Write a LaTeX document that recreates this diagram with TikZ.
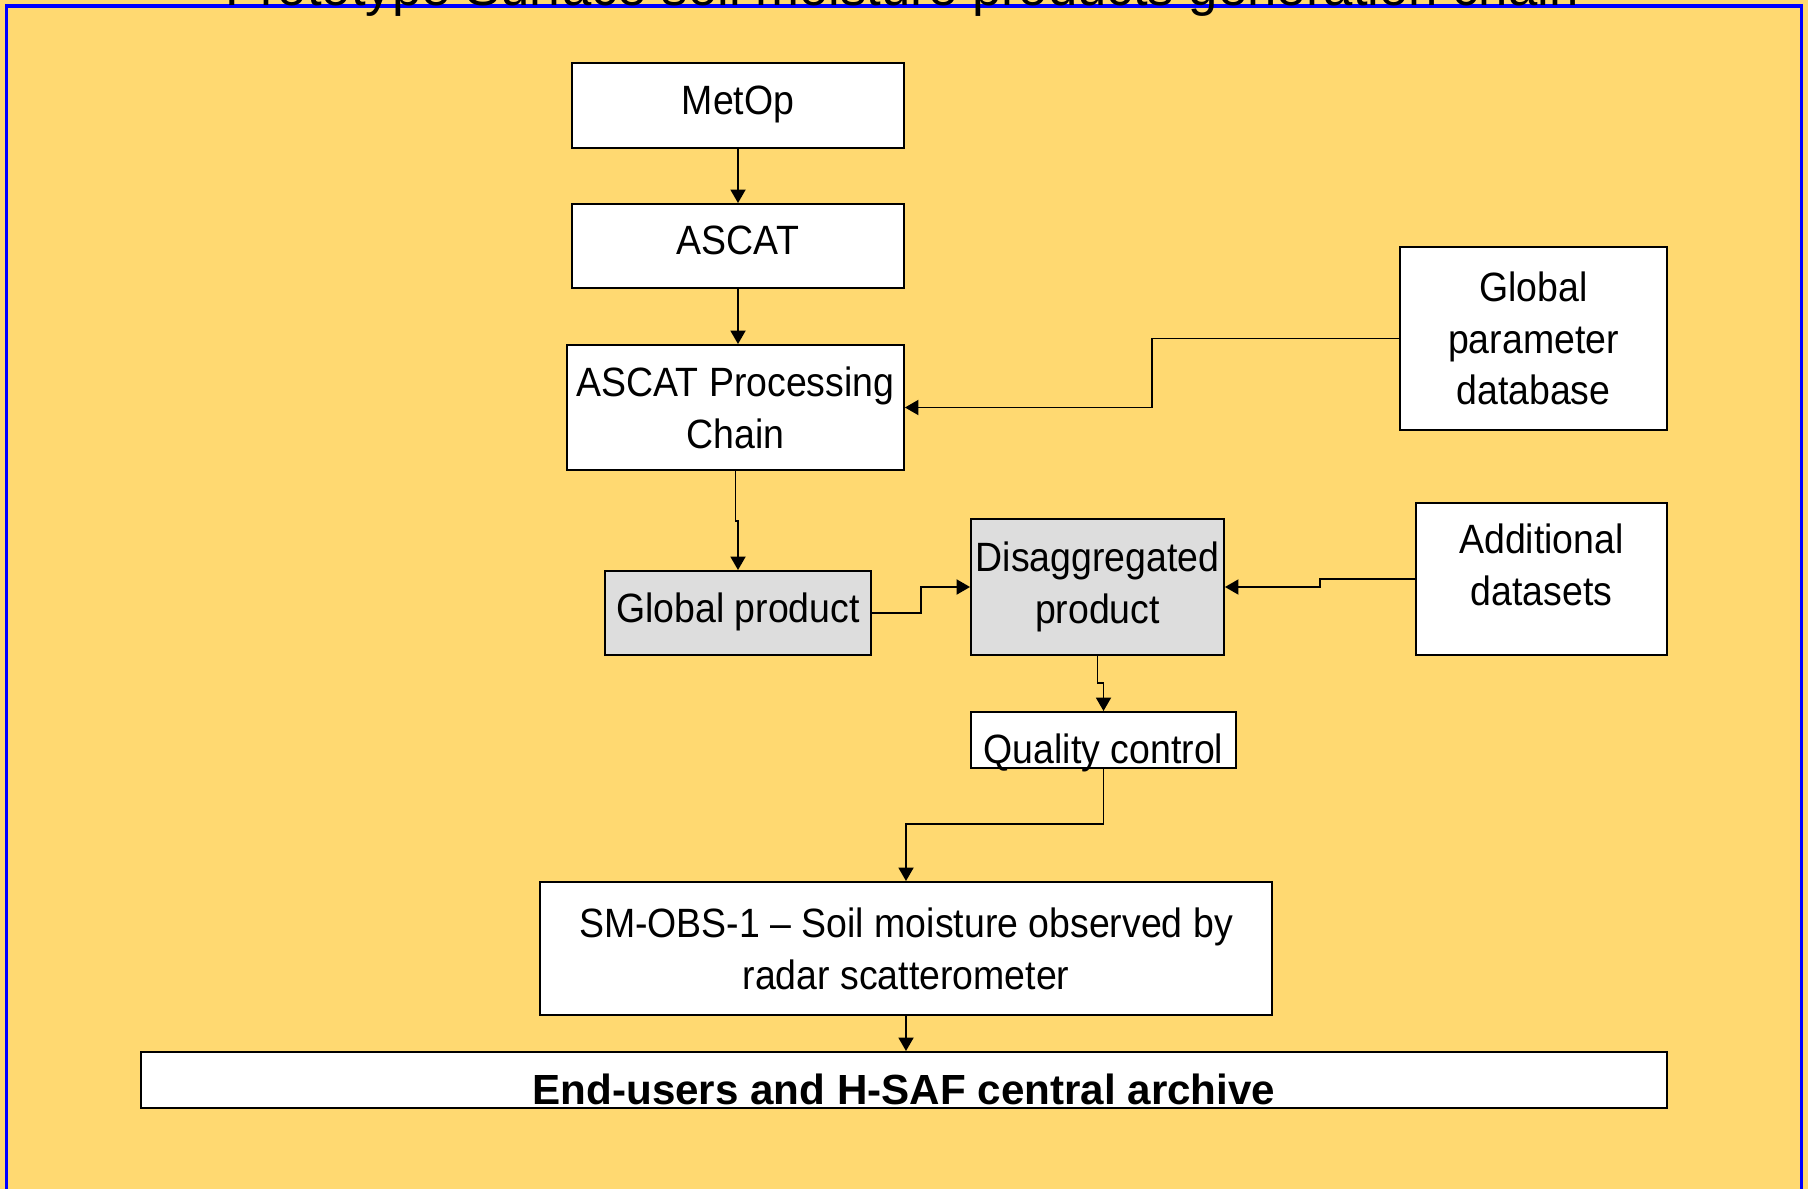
\documentclass[tikz,border=0pt]{standalone}
\usepackage{fontspec}
\setmainfont{Liberation Sans}
\newfontfamily\narrowsf[FakeStretch=0.915, Ligatures=TeX]{Liberation Sans}
\usetikzlibrary{arrows.meta}
\definecolor{panelyellow}{RGB}{255,217,113}
\definecolor{panelblue}{RGB}{0,0,255}
\definecolor{prodgrey}{RGB}{221,221,221}

\begin{document}
\begin{tikzpicture}[x=0.02cm, y=-0.02cm,
        procbox/.style={draw=black, fill=white, line width=1.1pt, inner sep=2pt, align=center,
            font=\narrowsf\fontsize{23.3pt}{29.5pt}\selectfont},
        prodbox/.style={procbox, fill=prodgrey},
        oneline/.style={text height=0.6cm, text depth=0.24cm},
        flow/.style={line width=1.1pt, -{Triangle[length=0.27cm, width=0.3cm]}}
    ]

    % --- Background and frame ---
    \useasboundingbox (0,0) rectangle (1808,1189);
    \clip (0,0) rectangle (1808,1189);
    \fill[panelyellow] (0,0) rectangle (1808,1189);
    \draw[panelblue, line width=0.07cm] (6.5,1200) -- (6.5,6) -- (1801.5,6) -- (1801.5,1200);
    \node[font=\fontsize{30pt}{36pt}\selectfont, anchor=base, inner sep=0pt] (title) at (902,6)
        {Prototype Surface soil moisture products generation chain};

    % --- Main chain ---
    \node[procbox, oneline, minimum width=6.64cm, minimum height=1.70cm] (metop) at (738,105.5) {MetOp};
    \node[procbox, oneline, minimum width=6.64cm, minimum height=1.68cm] (ascat) at (738,246) {ASCAT};
    \node[procbox, minimum width=6.74cm, minimum height=2.50cm] (apc) at (735.5,407.5) {ASCAT Processing\\Chain};

    % --- Inputs on the right ---
    \node[procbox, minimum width=5.34cm, minimum height=3.66cm] (gpd) at (1533.5,338.5) {Global\\parameter\\database};
    \node[procbox, text depth=0.56cm, minimum width=5.02cm, minimum height=3.04cm] (adds) at (1541.5,579) {Additional\\datasets};

    % --- Products ---
    \node[prodbox, oneline, minimum width=5.32cm, minimum height=1.68cm] (gprod) at (738,613) {Global product};
    \node[prodbox, minimum width=5.06cm, minimum height=2.72cm] (dprod) at (1097.5,587) {Disaggregated\\product};
    \node[procbox, text height=0.92cm, text depth=0pt, minimum width=5.30cm, minimum height=1.12cm] (qc) at (1103.5,740) {Quality control};

    % --- Output ---
    \node[procbox, minimum width=14.64cm, minimum height=2.66cm] (smobs) at (906,948.5)
        {SM-OBS-1 \textendash{} Soil moisture observed by\\radar scatterometer};
    \node[procbox, font=\bfseries\fontsize{24pt}{29pt}\selectfont, text height=0.96cm, text depth=0pt,
        minimum width=30.52cm, minimum height=1.12cm] (endu) at (904,1080) {End-users and H-SAF central archive};

    % --- Connectors ---
    \draw[flow] (metop) -- (ascat);
    \draw[flow] (ascat.south) -- (ascat.south |- apc.north);
    \draw[flow] (gpd.west) -| (1152,407.5) -- (apc.east);
    \draw[flow] (apc.south) -- (735.5,521) -| (gprod.north);
    \draw[flow] (gprod.east) -| (921,587) -- (dprod.west);
    \draw[flow] (adds.west) -| (1320,587) -- (dprod.east);
    \draw[flow] (dprod.south) -- (1097.5,683) -| (qc.north);
    \draw[flow] (qc.south) |- (906,824) -- (smobs.north);
    \draw[flow] (smobs.south) -- (smobs.south |- endu.north);

\end{tikzpicture}
\end{document}
